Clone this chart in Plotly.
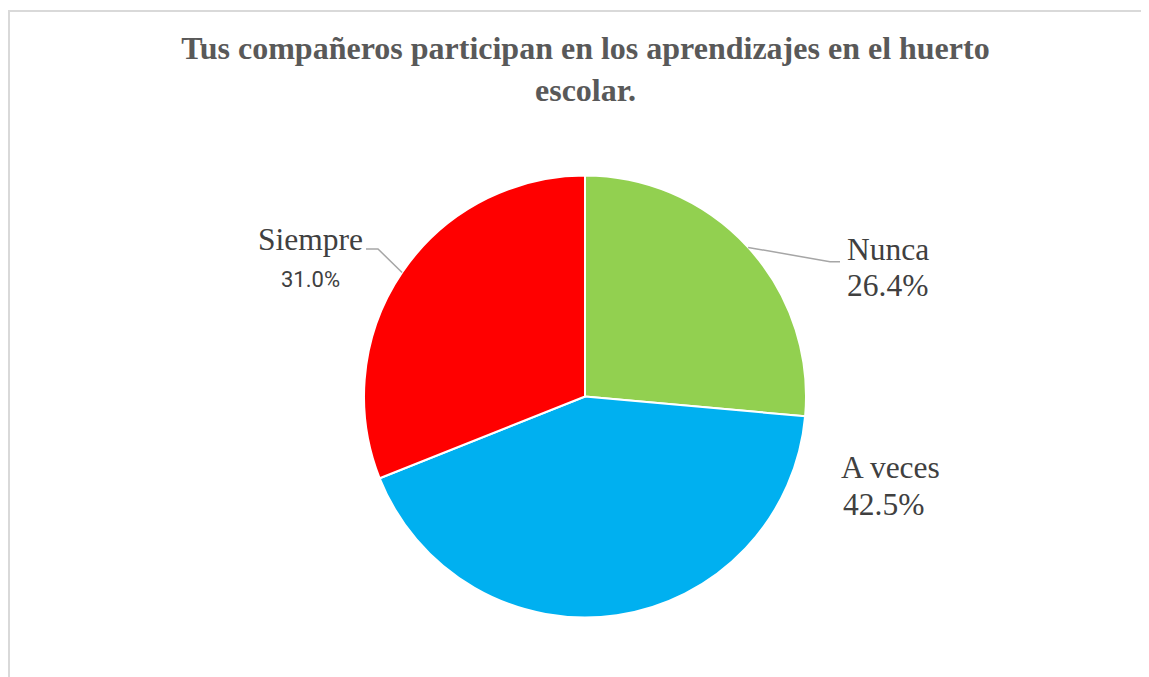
import math
import plotly.graph_objects as go

# ---- data ----
categories = ["Nunca", "A veces", "Siempre"]
percentages = [26.4, 42.5, 31.0]
colors = ["#92D050", "#00B0F0", "#FF0000"]
title_text = "Tus compañeros participan en los aprendizajes en el huerto<br>escolar."

# ---- layout helpers (screen-pixel geometry; page body has an 8px margin) ----
OFF = 8
W, H = 1149 - OFF, 677 - OFF
CX, CY, R = 585, 396.5, 221  # pie centre / radius in screen px


def px(x):
    return (x - OFF) / W


def py(y):
    return (H - (y - OFF)) / H


fig = go.Figure()
fig.add_trace(go.Pie(
    labels=categories,
    values=percentages,
    sort=False,
    direction="clockwise",
    rotation=0,
    marker=dict(colors=colors, line=dict(color="white", width=2)),
    textinfo="none",
    hoverinfo="label+percent",
    showlegend=False,
    domain=dict(x=[px(CX - R), px(CX + R)], y=[py(CY + R), py(CY - R)]),
))

# mid-angles of slices (clockwise from 12 o'clock), from the data
total = sum(percentages)
mids = {}
acc = 0.0
for c, v in zip(categories, percentages):
    mids[c] = (acc + v / 2) / total * 2 * math.pi
    acc += v


def edge(c):
    a = mids[c]
    return CX + R * math.sin(a), CY - R * math.cos(a)


serif = "Liberation Serif, Times New Roman, serif"
sans = "Roboto, Open Sans, sans-serif"
label_col = "#404040"
LS = 31.5
ann = []
shapes = []


def label(x, y, text, anchor, family=serif, size=LS):
    ann.append(dict(x=px(x), y=py(y), xref="paper", yref="paper", text=text,
                    showarrow=False, xanchor=anchor, yanchor="middle",
                    font=dict(family=family, size=size, color=label_col)))


# Nunca
label(844.7, 249, categories[0], "left")
label(844.7, 285.5, f"{percentages[0]:.1f}%", "left")
ex, ey = edge("Nunca")
shapes.append(dict(type="path", xref="paper", yref="paper",
                   path=f"M {px(ex)} {py(ey)} L {px(830)} {py(261.7)} L {px(840)} {py(261.7)}",
                   line=dict(color="#A6A6A6", width=1.5)))

# A veces
label(890, 467.5, categories[1], "center")
label(884, 504, f"{percentages[1]:.1f}%", "center")

# Siempre
label(310, 239, categories[2], "center")
label(310, 279, f"{percentages[2]:.1f}%", "center", family=sans, size=22)
ex, ey = edge("Siempre")
shapes.append(dict(type="path", xref="paper", yref="paper",
                   path=f"M {px(ex)} {py(ey)} L {px(378)} {py(249)} L {px(366)} {py(249)}",
                   line=dict(color="#A6A6A6", width=1.5)))

# chart frame
shapes.append(dict(type="path", xref="paper", yref="paper",
                   path=f"M {px(1170)} {py(11)} L {px(9)} {py(11)} L {px(9)} {py(700)}",
                   line=dict(color="#D9D9D9", width=2)))

fig.update_layout(
    width=W, height=H,
    margin=dict(l=0, r=0, t=0, b=0),
    paper_bgcolor="white",
    plot_bgcolor="white",
    title=dict(text=f"<b>{title_text}</b>", x=px(585.5), xanchor="center",
               y=py(59), yanchor="top",
               font=dict(family=serif, size=32, color="#595959")),
    annotations=ann,
    shapes=shapes,
)

fig.write_html("out.html")
